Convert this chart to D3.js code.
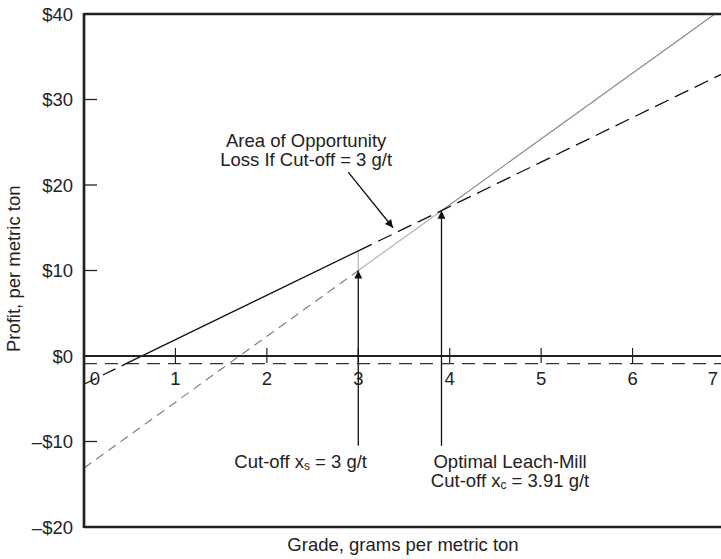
<!DOCTYPE html>
<html>
<head>
<meta charset="utf-8">
<script src="https://cdn.jsdelivr.net/npm/d3@7"></script>
<style>
  body { margin: 0; background: #fff; }
  svg { display: block; font-family: "Liberation Sans", Arial, sans-serif; }
</style>
</head>
<body>
<div id="chart"></div>
<script>
// values
const gradeTicks = [0, 1, 2, 3, 4, 5, 6, 7];
const profitTicks = [40, 30, 20, 10, 0, -10, -20];

// leach profit line: dashed below break-even, solid to 3 g/t, dashed beyond
const leachGrade = [0, 0.46, 3, 3.91, 7];
const leachProfit = [-3.3, -0.9, 12.3, 17.0, 33.1];

// mill profit line: dashed to 3 g/t, light to 3.91, solid beyond
const millGrade = [0, 3, 3.91, 6.9];
const millProfit = [-13.1, 10.0, 17.0, 40];

const breakEven = -0.9;
const cutoffs = [3, 3.91];

const width = 721;
const height = 559;
const fs = 18.5;
const gap = 19;

const x = d3.scaleLinear().domain([0, 7]).range([84, 724]);
const y = d3.scaleLinear().domain([-20, 40]).range([527, 14]);

const svg = d3.create("svg")
    .attr("width", width)
    .attr("height", height);

const defs = svg.append("defs");
defs.append("marker")
    .attr("id", "head")
    .attr("viewBox", "0 0 10 10")
    .attr("refX", 10)
    .attr("refY", 5)
    .attr("markerWidth", 11)
    .attr("markerHeight", 8)
    .attr("markerUnits", "userSpaceOnUse")
    .attr("orient", "auto")
    .append("path")
    .attr("d", "M0,0 L10,5 L0,10 Z")
    .attr("fill", "#111");

const line = d3.line().x(d => x(d[0])).y(d => y(d[1]));
const pts = (gs, ps) => gs.map((g, i) => [g, ps[i]]);
const leach = pts(leachGrade, leachProfit);
const mill = pts(millGrade, millProfit);

// horizontal break-even dashed line
svg.append("line")
    .attr("x1", x(0)).attr("x2", width)
    .attr("y1", y(breakEven)).attr("y2", y(breakEven))
    .attr("stroke", "#333").attr("stroke-width", 1.3)
    .attr("stroke-dasharray", "13,8");

// mill line
svg.append("path").attr("d", line(mill.slice(0, 2)))
    .attr("fill", "none").attr("stroke", "#808080").attr("stroke-width", 1.2)
    .attr("stroke-dasharray", "9,6");
svg.append("path").attr("d", line(mill.slice(1, 3)))
    .attr("fill", "none").attr("stroke", "#b5b5b5").attr("stroke-width", 1.2);
svg.append("path").attr("d", line(mill.slice(2, 4)))
    .attr("fill", "none").attr("stroke", "#8a8a8a").attr("stroke-width", 1.2);

// vertical edge of opportunity-loss area
svg.append("line")
    .attr("x1", x(cutoffs[0])).attr("x2", x(cutoffs[0]))
    .attr("y1", y(millProfit[1])).attr("y2", y(leachProfit[2]))
    .attr("stroke", "#b5b5b5").attr("stroke-width", 1.2);

// leach line
svg.append("path").attr("d", line(leach.slice(0, 2)))
    .attr("fill", "none").attr("stroke", "#111").attr("stroke-width", 1.3)
    .attr("stroke-dasharray", "14,7");
svg.append("path").attr("d", line(leach.slice(1, 3)))
    .attr("fill", "none").attr("stroke", "#111").attr("stroke-width", 1.3);
svg.append("path").attr("d", line(leach.slice(2)))
    .attr("fill", "none").attr("stroke", "#111").attr("stroke-width", 1.3)
    .attr("stroke-dasharray", "15,7");

// zero line with grade ticks
svg.append("line")
    .attr("x1", x(0)).attr("x2", width)
    .attr("y1", y(0)).attr("y2", y(0))
    .attr("stroke", "#222").attr("stroke-width", 2.2);

svg.append("g")
    .selectAll("line")
    .data(gradeTicks.filter(d => d > 0))
    .join("line")
    .attr("x1", d => x(d)).attr("x2", d => x(d))
    .attr("y1", y(0) - 8).attr("y2", y(0) + 7)
    .attr("stroke", "#222").attr("stroke-width", 1.2);

svg.append("g")
    .selectAll("text")
    .data(gradeTicks)
    .join("text")
    .attr("x", d => d === 0 ? x(d) + 11 : Math.min(x(d), width - 8))
    .attr("y", y(0) + 29)
    .attr("text-anchor", "middle")
    .attr("font-size", fs)
    .attr("fill", "#222")
    .text(d => d);

// frame: left axis, top and bottom borders
svg.append("line")
    .attr("x1", x(0)).attr("x2", x(0))
    .attr("y1", y(40) - 1).attr("y2", y(-20) + 1)
    .attr("stroke", "#222").attr("stroke-width", 2.7);
svg.append("line")
    .attr("x1", x(0)).attr("x2", width)
    .attr("y1", y(40)).attr("y2", y(40))
    .attr("stroke", "#222").attr("stroke-width", 2.4);
svg.append("line")
    .attr("x1", x(0)).attr("x2", width)
    .attr("y1", y(-20)).attr("y2", y(-20))
    .attr("stroke", "#222").attr("stroke-width", 2.6);

// profit ticks and labels
const fmt = d => (d < 0 ? "\u2013$" : "$") + Math.abs(d);
svg.append("g")
    .selectAll("line")
    .data(profitTicks.filter(d => d > -20 && d < 40 && d !== 0))
    .join("line")
    .attr("x1", x(0)).attr("x2", x(0) + 13)
    .attr("y1", d => y(d)).attr("y2", d => y(d))
    .attr("stroke", "#222").attr("stroke-width", 1.3);

svg.append("g")
    .selectAll("text")
    .data(profitTicks)
    .join("text")
    .attr("x", x(0) - 11)
    .attr("y", d => y(d) + 6.5)
    .attr("text-anchor", "end")
    .attr("font-size", fs)
    .attr("fill", "#222")
    .text(fmt);

// axis titles
svg.append("text")
    .attr("transform", `translate(20,${y(10.2)}) rotate(-90)`)
    .attr("text-anchor", "middle")
    .attr("font-size", fs)
    .attr("fill", "#222")
    .text("Profit, per metric ton");

svg.append("text")
    .attr("x", 403)
    .attr("y", 551)
    .attr("text-anchor", "middle")
    .attr("font-size", fs)
    .attr("fill", "#222")
    .text("Grade, grams per metric ton");

// cut-off arrows
const cutTop = [millProfit[1], millProfit[2]];
svg.append("g")
    .selectAll("line")
    .data(cutoffs)
    .join("line")
    .attr("x1", d => x(d)).attr("x2", d => x(d))
    .attr("y1", y(-10.5))
    .attr("y2", (d, i) => y(cutTop[i]))
    .attr("stroke", "#111").attr("stroke-width", 1.3)
    .attr("marker-end", "url(#head)");

// opportunity loss annotation
svg.append("line")
    .attr("x1", x(2.89)).attr("y1", y(21.5))
    .attr("x2", x(3.38)).attr("y2", y(15.0))
    .attr("stroke", "#111").attr("stroke-width", 1.3)
    .attr("marker-end", "url(#head)");

const note = svg.append("text")
    .attr("text-anchor", "middle")
    .attr("font-size", fs)
    .attr("fill", "#222");
note.append("tspan").attr("x", x(2.43)).attr("y", y(24.4)).text("Area of Opportunity");
note.append("tspan").attr("x", x(2.43)).attr("dy", gap).text("Loss If Cut-off = 3 g/t");

// cut-off labels
const cs = svg.append("text")
    .attr("x", x(2.37)).attr("y", y(-13.1))
    .attr("text-anchor", "middle")
    .attr("font-size", fs)
    .attr("fill", "#222");
cs.append("tspan").text("Cut-off x");
cs.append("tspan").attr("font-size", 12).attr("dy", 2).text("s");
cs.append("tspan").attr("dy", -2).text(" = 3 g/t");

svg.append("text")
    .attr("x", x(4.66)).attr("y", y(-13.1))
    .attr("text-anchor", "middle")
    .attr("font-size", fs)
    .attr("fill", "#222")
    .text("Optimal Leach-Mill");
const l2 = svg.append("text")
    .attr("x", x(4.66)).attr("y", y(-13.1) + gap)
    .attr("text-anchor", "middle")
    .attr("font-size", fs)
    .attr("fill", "#222");
l2.append("tspan").text("Cut-off x");
l2.append("tspan").attr("font-size", 12).attr("dy", 2).text("c");
l2.append("tspan").attr("dy", -2).text(" = 3.91 g/t");

d3.select("#chart").node().append(svg.node());
</script>
</body>
</html>
